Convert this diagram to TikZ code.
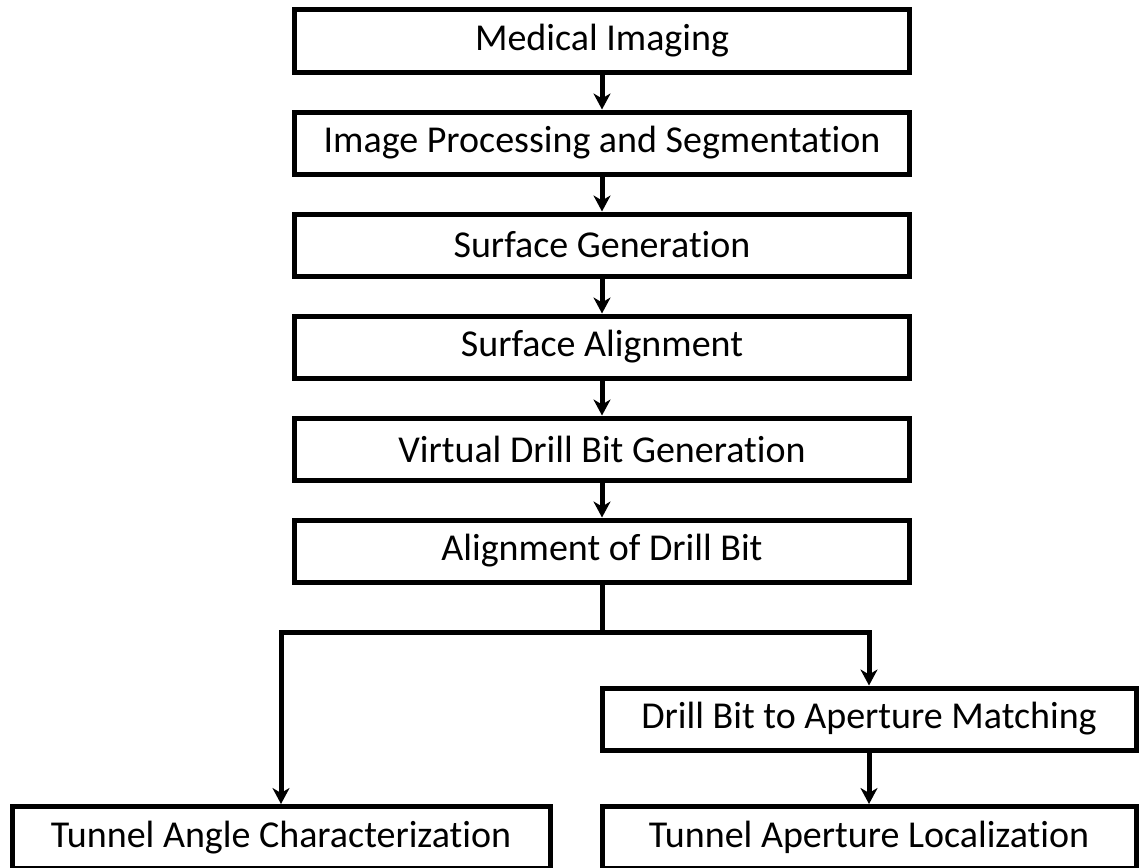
\documentclass[tikz,border=0pt]{standalone}
\usepackage{fontspec}
\setmainfont{Carlito}[Ligatures=NoCommon]
\usetikzlibrary{arrows.meta,positioning}
\tikzset{
  stepbox/.style={
    draw=black,
    fill=white,
    line width=5pt,
    minimum width=615pt,
    minimum height=62pt,
    align=center,
    inner sep=4pt,
    font=\fontsize{38}{44}\selectfont
  },
  sidebox/.style={
    stepbox,
    minimum width=534pt
  },
  flowarrow/.style={-{Stealth[length=16pt,width=17pt,inset=5pt]},line width=5pt,draw=black}
}

\begin{document}
\begin{tikzpicture}[x=1pt,y=-1pt,node distance=35pt]
  \useasboundingbox (0,0) rectangle (1139,867);
  \node[stepbox] (imaging) at (602,41) {Medical Imaging};
  \node[stepbox,below=of imaging] (segment) {Image Processing and Segmentation};
  \node[stepbox,below=of segment] (surfgen) {Surface Generation};
  \node[stepbox,below=of surfgen] (surfalign) {Surface Alignment};
  \node[stepbox,below=of surfalign] (drillgen) {Virtual Drill Bit Generation};
  \node[stepbox,below=of drillgen] (drillalign) {Alignment of Drill Bit};
  \coordinate[below=48pt of drillalign] (split);
  \node[sidebox] (matching) at (869,719) {Drill Bit to Aperture Matching};
  \node[sidebox,minimum width=538pt] (angle) at (281,837.5) {Tunnel Angle Characterization};
  \node[sidebox] (aperture) at (869,837.5) {Tunnel Aperture Localization};
  \draw[flowarrow] (imaging) -- (segment);
  \draw[flowarrow] (segment) -- (surfgen);
  \draw[flowarrow] (surfgen) -- (surfalign);
  \draw[flowarrow] (surfalign) -- (drillgen);
  \draw[flowarrow] (drillgen) -- (drillalign);
  \draw[line width=5pt] (drillalign.south) -- (split);
  \draw[flowarrow] (split) -| (angle.north);
  \draw[flowarrow] (split) -| (matching.north);
  \draw[flowarrow] (matching) -- (aperture);
\end{tikzpicture}
\end{document}
